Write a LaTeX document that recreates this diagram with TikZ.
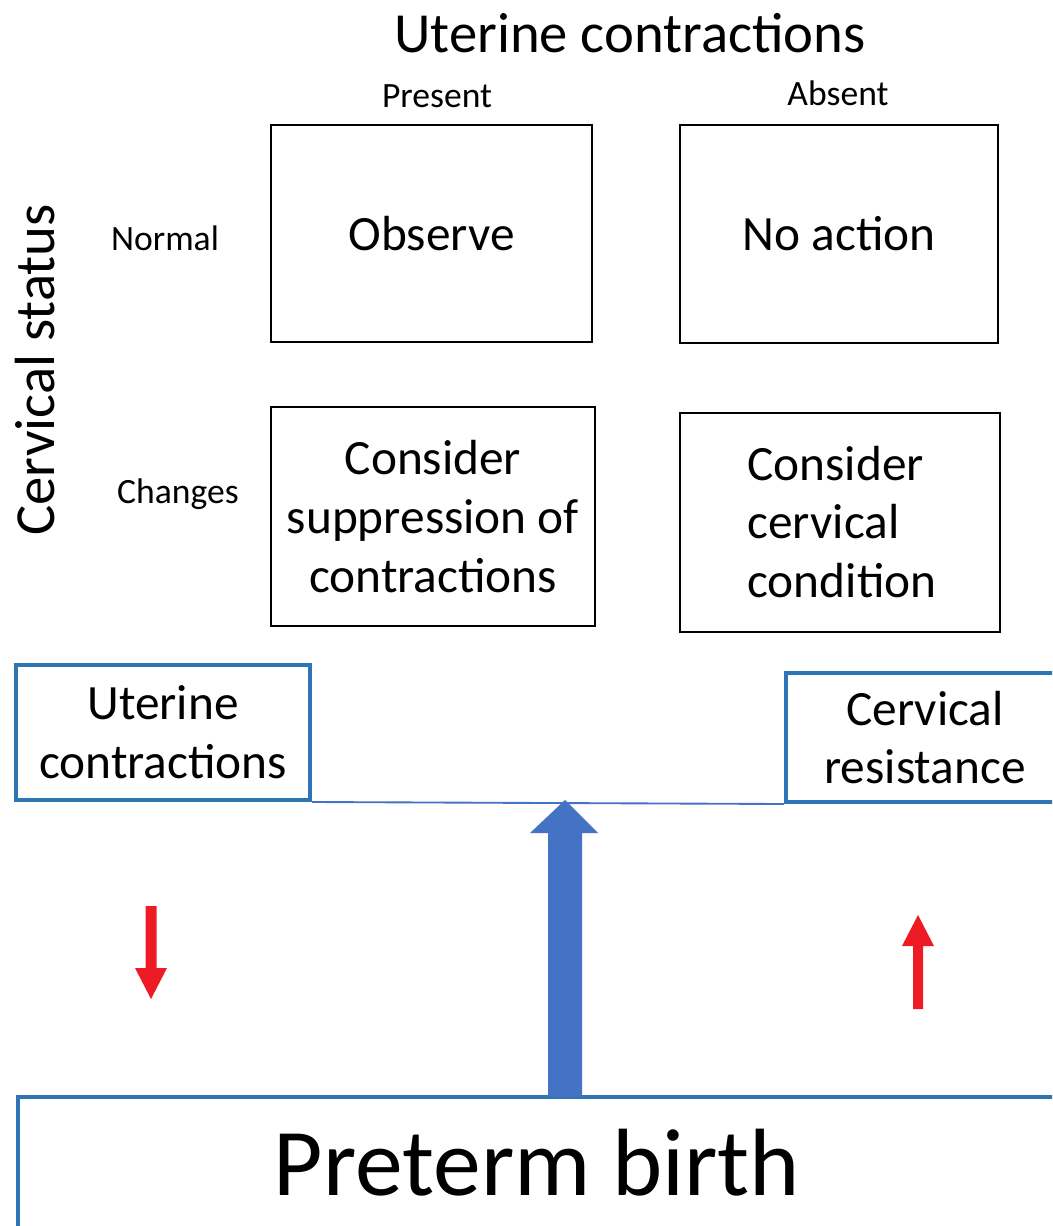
\documentclass[tikz,border=0pt]{standalone}
\usepackage{fontspec}
\setmainfont{Carlito}
\definecolor{boxblue}{HTML}{2E75B6}
\definecolor{arrblue}{HTML}{4472C4}
\definecolor{arrred}{HTML}{ED1C24}
\begin{document}
\begin{tikzpicture}[x=0.75pt,y=-0.75pt,
  blackbox/.style={draw=black,line width=2.2pt,inner sep=0pt,align=center,font=\fontsize{37}{44}\selectfont},
  bluebox/.style={draw=boxblue,line width=3pt,inner sep=0pt,align=center,font=\fontsize{37}{44}\selectfont},
  smalllab/.style={inner sep=0pt,font=\fontsize{26.7}{30}\selectfont},
  biglab/.style={inner sep=0pt,font=\fontsize{42.5}{46}\selectfont}]
\useasboundingbox (0,0) rectangle (1052,1226);
\clip (0,0) rectangle (1052,1226);
% headings
\node[biglab] (title) at (630,33) {Uterine contractions};
\node[smalllab] (present) at (437,96) {Present};
\node[smalllab] (absent) at (838,93) {Absent};
\node[biglab,rotate=90] (cervstat) at (35,370) {Cervical status};
\node[smalllab] (normal) at (165,238) {Normal};
\node[smalllab] (changes) at (178,494) {Changes};
% grid boxes
\node[blackbox,minimum width={321*0.75pt},minimum height={217*0.75pt}] (observe) at (431.5,233.5) {Observe};
\node[blackbox,minimum width={318*0.75pt},minimum height={218*0.75pt}] (noaction) at (839,234) {No action};
\node[blackbox,minimum width={324*0.75pt},minimum height={219*0.75pt}] (suppress) at (433,516.5) {Consider\\suppression of\\contractions};
\node[blackbox,minimum width={320*0.75pt},minimum height={219*0.75pt}] (cervcond) at (840,522.5) {};
\node[inner sep=0pt,align=left,font=\fontsize{37}{44}\selectfont] (cervcondtext) at (842,522) {Consider\\cervical\\condition};
% balance boxes
\node[bluebox,minimum width={294*0.75pt},minimum height={135*0.75pt}] (uc) at (163,732.5) {Uterine\\contractions};
\node[bluebox,minimum width={278*0.75pt},minimum height={129*0.75pt}] (cr) at (925,737.5) {Cervical\\resistance};
\draw[arrblue,line width=1.4pt] (uc.south east) -- (cr.south west);
\coordinate (tip) at (565,800);
% bottom box
\node[bluebox,minimum width={1038*0.75pt},minimum height={143*0.75pt}] (pb) at (537,1168.5) {};
\node[inner sep=0pt,font=\fontsize{71.7}{80}\selectfont] (pbtext) at (537,1163) {Preterm birth};
% big arrow
\fill[arrblue] (548,1097) -- (548,833) -- (530,833) -- (tip) -- (598,833) -- (582,833) -- (582,1097) -- cycle;
% red arrows
\coordinate (downtip) at (151,999);
\coordinate (uptip) at (918,915);
\fill[arrred] (145.5,906) -- (156.5,906) -- (156.5,968) -- (167,968) -- (downtip) -- (135,968) -- (145.5,968) -- cycle;
\fill[arrred] (913,1009) -- (923,1009) -- (923,946) -- (934,946) -- (uptip) -- (902,946) -- (913,946) -- cycle;
\end{tikzpicture}
\end{document}
